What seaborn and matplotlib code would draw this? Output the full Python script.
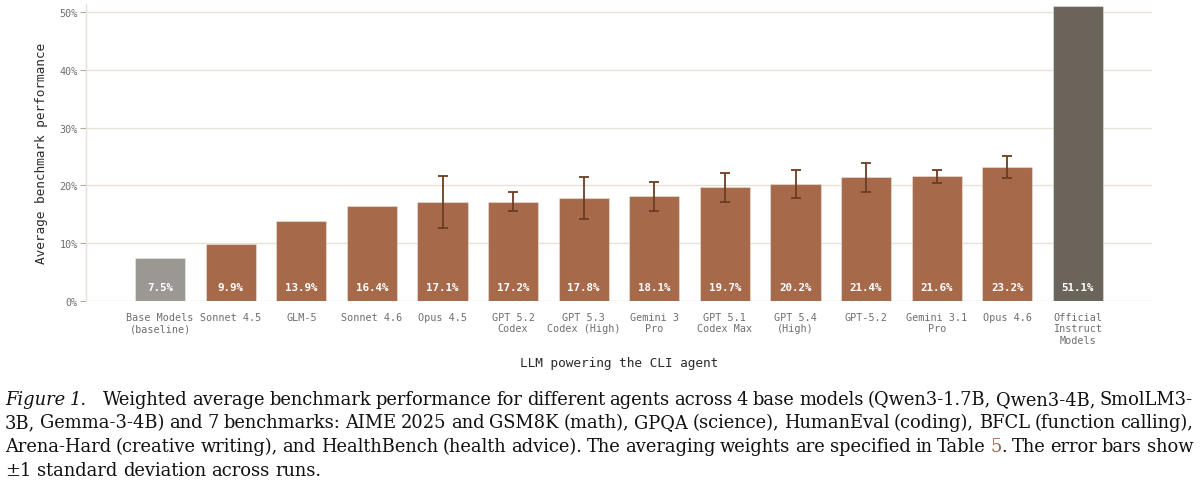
import numpy as np
import pandas as pd
import matplotlib
matplotlib.use("Agg")
import matplotlib.pyplot as plt
import seaborn as sns

# data
agents = ["Base Models\n(baseline)", "Sonnet 4.5", "GLM-5", "Sonnet 4.6", "Opus 4.5",
          "GPT 5.2\nCodex", "GPT 5.3\nCodex (High)", "Gemini 3\nPro", "GPT 5.1\nCodex Max",
          "GPT 5.4\n(High)", "GPT-5.2", "Gemini 3.1\nPro", "Opus 4.6",
          "Official\nInstruct\nModels"]
scores = [7.5, 9.9, 13.9, 16.4, 17.1, 17.2, 17.8, 18.1, 19.7, 20.2, 21.4, 21.6, 23.2, 51.1]
std_dev = [np.nan, np.nan, np.nan, np.nan, 4.5, 1.65, 3.6, 2.45, 2.5, 2.4, 2.45, 1.1, 1.85, np.nan]
kind = ["base", "agent", "agent", "agent", "agent", "agent", "agent", "agent", "agent",
        "agent", "agent", "agent", "agent", "official"]

caption_lines = [
    "Figure 1.  Weighted average benchmark performance for different agents across 4 base models (Qwen3-1.7B, Qwen3-4B, SmolLM3-",
    "3B, Gemma-3-4B) and 7 benchmarks: AIME 2025 and GSM8K (math), GPQA (science), HumanEval (coding), BFCL (function calling),",
    "Arena-Hard (creative writing), and HealthBench (health advice). The averaging weights are specified in Table 5. The error bars show",
    "\u00b11 standard deviation across runs.",
]

# colours
COLORS = {"base": "#9b9792", "agent": "#a66a4b", "official": "#6b645a"}
ERR_COLOR = "#6b3d22"
GRID_COLOR = "#e6e1d6"
TICK_COLOR = "#6e6e6e"
LINK_COLOR = "#a0684a"

df = pd.DataFrame({"agent": agents, "score": scores, "std": std_dev, "kind": kind})

sns.set_theme(style="white")
plt.rcParams["font.family"] = ["DejaVu Sans Mono", "DejaVu Sans"]

fig = plt.figure(figsize=(12, 4.85), dpi=100)
ax = fig.add_axes([0.0717, 0.3773, 0.8883, 0.6124])

sns.barplot(data=df, x="agent", y="score", hue="kind", palette=COLORS,
            width=0.71, dodge=False, legend=False, saturation=1, ax=ax,
            edgecolor=(1, 1, 1, 0.35), linewidth=0.8, zorder=3)

ax.errorbar(np.arange(len(df)), df["score"], yerr=df["std"], fmt="none",
            ecolor=ERR_COLOR, elinewidth=1.3, capsize=3.3, capthick=1.3, zorder=4)

# value labels inside the bars, near the bottom
for i, v in enumerate(df["score"]):
    ax.text(i, 2.4, f"{v:.1f}%", ha="center", va="center", color="white",
            fontsize=7.8, fontweight="bold", zorder=5)

ax.set_ylim(0, 51.4)
ax.set_xlim(-1.05, len(df) - 1 + 1.05)
ax.set_yticks([0, 10, 20, 30, 40, 50])
ax.set_yticklabels([f"{t}%" for t in [0, 10, 20, 30, 40, 50]])
ax.yaxis.grid(True, color=GRID_COLOR, linewidth=1.0, zorder=0)
ax.set_axisbelow(True)

for side in ["top", "right", "bottom"]:
    ax.spines[side].set_visible(False)
ax.spines["left"].set_color(GRID_COLOR)
ax.spines["left"].set_linewidth(1.0)

ax.tick_params(axis="y", which="both", left=True, length=4, width=0.8,
               color="#b0aaa0", labelsize=7.3, labelcolor=TICK_COLOR, pad=2)
ax.tick_params(axis="x", length=0, labelsize=7.3, labelcolor=TICK_COLOR, pad=8)
for lab in ax.get_xticklabels():
    lab.set_linespacing(1.15)

ax.set_xlabel("LLM powering the CLI agent", fontsize=9.2, color="#2b2b2b", labelpad=8)
ax.set_ylabel("Average benchmark performance", fontsize=9.2, color="#2b2b2b", labelpad=8)

# caption, justified like the paper
renderer = fig.canvas.get_renderer()
cap_font = {"family": ["DejaVu Serif"], "size": 12.9}
left_px, right_px = 5, 1193
baselines = [405, 428.5, 452, 475.5]
H = fig.get_figheight() * fig.dpi
W = fig.get_figwidth() * fig.dpi


def word_style(word, li):
    if li == 0 and word in ("Figure", "1."):
        return "italic"
    return "normal"


for li, line in enumerate(caption_lines):
    words = line.split()
    arts = []
    for w in words:
        t = fig.text(0, 1 - baselines[li] / H, w, fontdict=cap_font, style=word_style(w, li),
                     color="#111111", va="baseline", ha="left")
        arts.append(t)
    widths = [a.get_window_extent(renderer).width for a in arts]
    t1 = fig.text(0, 0, "a b", fontdict=cap_font)
    t2 = fig.text(0, 0, "ab", fontdict=cap_font)
    space = t1.get_window_extent(renderer).width - t2.get_window_extent(renderer).width
    t1.remove()
    t2.remove()
    extra = [0.0] * len(words)
    if li == 0:
        extra[2] = 12.0
    if li < len(caption_lines) - 1:
        gap = (right_px - left_px - sum(widths) - sum(extra)) / (len(words) - 1)
    else:
        gap = space
    x = left_px
    for k, (a, w) in enumerate(zip(arts, widths)):
        x += extra[k]
        a.set_x(x / W)
        x += w + gap
    # "5" of "Table 5." is a link colour
    if li == 2:
        k = words.index("5.")
        a = arts[k]
        a.set_text("5")
        a.set_color(LINK_COLOR)
        w5 = a.get_window_extent(renderer).width
        fig.text(a.get_position()[0] + w5 / W, 1 - baselines[li] / H, ".",
                 fontdict=cap_font, color="#111111", va="baseline", ha="left")

fig.savefig("out.png", dpi=100)
